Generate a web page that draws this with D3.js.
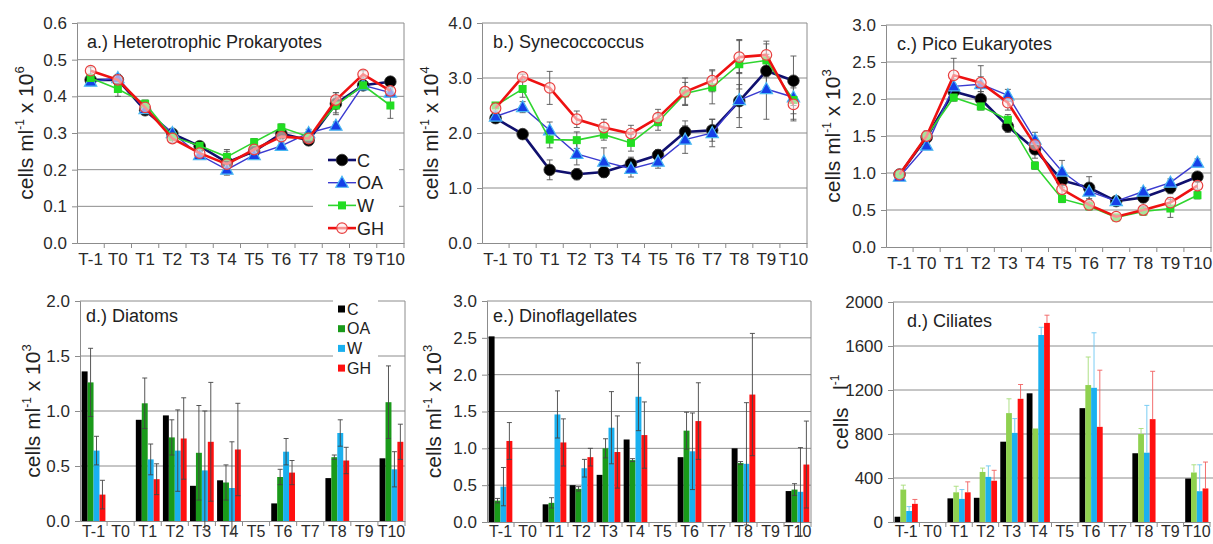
<!DOCTYPE html>
<html>
<head>
<meta charset="utf-8">
<script src="https://cdn.jsdelivr.net/npm/d3@7.9.0/dist/d3.min.js"></script>
<style>
  body { margin: 0; background: #fff; }
  svg { display: block; font-family: "Liberation Sans", Arial, sans-serif; }
</style>
</head>
<body>
<svg id="chart" width="1213" height="544"></svg>
<script>
// x categories (sampling days) and treatments
const timepoints = ["T-1", "T0", "T1", "T2", "T3", "T4", "T5", "T6", "T7", "T8", "T9", "T10"];
const treatments = ["C", "OA", "W", "GH"];

// a.) Heterotrophic prokaryotes, cells ml-1 x 10^6
const hetC  = [0.445, 0.445, 0.362, 0.298, 0.264, 0.220, 0.250, 0.298, 0.280, 0.380, 0.430, 0.440];
const hetOA = [0.440, 0.450, 0.365, 0.300, 0.240, 0.200, 0.240, 0.265, 0.300, 0.320, 0.430, 0.410];
const hetW  = [0.450, 0.420, 0.380, 0.290, 0.265, 0.235, 0.275, 0.315, 0.290, 0.375, 0.430, 0.375];
const hetGH = [0.470, 0.445, 0.370, 0.285, 0.245, 0.215, 0.255, 0.290, 0.285, 0.390, 0.460, 0.415];
const hetCErr  = [0.010, 0.010, 0.010, 0.010, 0.012, 0.035, 0.010, 0.010, 0.010, 0.030, 0.010, 0.010];
const hetOAErr = [0.010, 0.010, 0.010, 0.010, 0.010, 0.010, 0.010, 0.010, 0.010, 0.010, 0.010, 0.010];
const hetWErr  = [0.010, 0.020, 0.010, 0.010, 0.010, 0.015, 0.010, 0.010, 0.010, 0.020, 0.010, 0.035];
const hetGHErr = [0.010, 0.010, 0.010, 0.010, 0.010, 0.010, 0.010, 0.010, 0.010, 0.020, 0.010, 0.010];

// b.) Synechococcus, cells ml-1 x 10^4
const synC  = [2.27, 1.98, 1.33, 1.25, 1.29, 1.44, 1.60, 2.02, 2.05, 2.58, 3.13, 2.95];
const synOA = [2.30, 2.47, 2.05, 1.62, 1.48, 1.35, 1.48, 1.88, 2.00, 2.60, 2.80, 2.65];
const synW  = [2.50, 2.80, 1.88, 1.87, 1.97, 1.82, 2.20, 2.72, 2.83, 3.25, 3.32, 2.60];
const synGH = [2.45, 3.02, 2.82, 2.25, 2.10, 1.99, 2.28, 2.75, 2.95, 3.38, 3.42, 2.52];
const synCErr  = [0.05, 0.05, 0.18, 0.10, 0.10, 0.12, 0.10, 0.20, 0.20, 0.30, 0.30, 0.45];
const synOAErr = [0.05, 0.10, 0.15, 0.20, 0.25, 0.15, 0.12, 0.25, 0.25, 0.50, 0.55, 0.30];
const synWErr  = [0.05, 0.15, 0.15, 0.15, 0.10, 0.15, 0.15, 0.20, 0.30, 0.45, 0.30, 0.35];
const synGHErr = [0.05, 0.05, 0.30, 0.15, 0.15, 0.15, 0.15, 0.25, 0.20, 0.30, 0.25, 0.30];

// c.) Pico eukaryotes, cells ml-1 x 10^3
const picC  = [0.98, 1.48, 2.10, 2.00, 1.63, 1.32, 0.90, 0.80, 0.62, 0.67, 0.80, 0.95];
const picOA = [0.95, 1.37, 2.17, 2.20, 2.05, 1.45, 1.02, 0.75, 0.62, 0.75, 0.87, 1.14];
const picW  = [0.98, 1.50, 2.02, 1.90, 1.72, 1.10, 0.65, 0.55, 0.40, 0.48, 0.52, 0.70];
const picGH = [0.98, 1.50, 2.32, 2.22, 1.95, 1.38, 0.78, 0.57, 0.41, 0.50, 0.60, 0.83];
const picCErr  = [0.05, 0.07, 0.10, 0.10, 0.08, 0.12, 0.10, 0.15, 0.05, 0.07, 0.08, 0.05];
const picOAErr = [0.05, 0.05, 0.10, 0.10, 0.08, 0.10, 0.15, 0.10, 0.05, 0.05, 0.05, 0.05];
const picWErr  = [0.05, 0.05, 0.05, 0.05, 0.07, 0.05, 0.05, 0.05, 0.03, 0.05, 0.12, 0.05];
const picGHErr = [0.05, 0.07, 0.23, 0.23, 0.10, 0.10, 0.10, 0.05, 0.03, 0.05, 0.07, 0.05];

// d.) Diatoms, cells ml-1 x 10^3 (null = not sampled)
const diaC  = [1.36, null, 0.92, 0.96, 0.32, 0.37, null, 0.16, null, 0.39, null, 0.57];
const diaOA = [1.26, null, 1.07, 0.76, 0.62, 0.35, null, 0.40, null, 0.58, null, 1.08];
const diaW  = [0.64, null, 0.56, 0.64, 0.46, 0.30, null, 0.63, null, 0.80, null, 0.47];
const diaGH = [0.24, null, 0.38, 0.75, 0.72, 0.65, null, 0.44, null, 0.55, null, 0.72];
const diaCErr  = [0, null, 0, 0, 0, 0, null, 0, null, 0, null, 0];
const diaOAErr = [0.31, null, 0.23, 0.16, 0.43, 0.16, null, 0.07, null, 0.02, null, 0.33];
const diaWErr  = [0.13, null, 0.14, 0.37, 0.54, 0.42, null, 0.12, null, 0.12, null, 0.16];
const diaGHErr = [0.13, null, 0.14, 0.37, 0.54, 0.42, null, 0.11, null, 0.12, null, 0.16];

// e.) Dinoflagellates, cells ml-1 x 10^3
const dinC  = [2.52, null, 0.24, 0.50, 0.64, 1.12, null, 0.88, null, 1.00, null, 0.42];
const dinOA = [0.29, null, 0.26, 0.45, 1.00, 0.84, null, 1.24, null, 0.80, null, 0.44];
const dinW  = [0.48, null, 1.46, 0.73, 1.28, 1.70, null, 0.96, null, 0.79, null, 0.41];
const dinGH = [1.10, null, 1.08, 0.88, 0.95, 1.18, null, 1.37, null, 1.73, null, 0.78];
const dinCErr  = [0, null, 0, 0, 0, 0, null, 0, null, 0, null, 0];
const dinOAErr = [0.03, null, 0.07, 0.03, 0.13, 0.02, null, 0.25, null, 0.02, null, 0.08];
const dinWErr  = [0.26, null, 0.32, 0.12, 0.49, 0.46, null, 0.52, null, 0.83, null, 0.60];
const dinGHErr = [0.25, null, 0.32, 0.12, 0.49, 0.45, null, 0.52, null, 0.83, null, 0.59];

// f.) Ciliates, cells l-1
const cilC  = [48, null, 215, 220, 730, 1170, null, 1035, null, 625, null, 395];
const cilOA = [295, null, 270, 455, 990, 850, null, 1245, null, 800, null, 450];
const cilW  = [100, null, 210, 410, 810, 1700, null, 1220, null, 630, null, 280];
const cilGH = [165, null, 270, 375, 1120, 1810, null, 865, null, 935, null, 305];
const cilCErr  = [0, null, 0, 0, 0, 0, null, 0, null, 0, null, 0];
const cilOAErr = [40, null, 55, 35, 130, 0, null, 255, null, 50, null, 70];
const cilWErr  = [40, null, 85, 100, 130, 70, null, 500, null, 430, null, 240];
const cilGHErr = [40, null, 95, 95, 130, 70, null, 515, null, 435, null, 240];

const svg = d3.select("#chart");
const FONT = "Liberation Sans, Arial, sans-serif";

const lineStyle = {
  C:  { line: "#10106e", lw: 2.6 },
  OA: { line: "#3a3ad0", lw: 1.4 },
  W:  { line: "#2fd52f", lw: 1.6 },
  GH: { line: "#ee1111", lw: 2.6 }
};

// draws the frame, gridlines, axes and y title of one panel, returns scales
function frame(p) {
  const g = svg.append("g");
  const x = d3.scaleBand().domain(timepoints).range([p.left, p.right]);
  const y = d3.scaleLinear().domain([0, p.yMax]).range([p.bottom, p.top]);

  // gridlines
  g.selectAll("line.grid")
    .data(p.ticks.filter(t => t > 0))
    .join("line")
    .attr("x1", p.left).attr("x2", p.gridRight || p.right)
    .attr("y1", d => y(d)).attr("y2", d => y(d))
    .attr("stroke", "#8c8c8c").attr("stroke-width", 1);

  if (p.box) {
    g.append("line").attr("x1", p.right).attr("x2", p.right)
      .attr("y1", p.top).attr("y2", p.bottom)
      .attr("stroke", "#8c8c8c");
  }

  // y axis
  const ya = g.append("g")
    .attr("transform", `translate(${p.left},0)`)
    .call(d3.axisLeft(y).tickValues(p.ticks).tickFormat(p.fmt).tickSize(5).tickPadding(5));
  ya.select(".domain").attr("stroke", "#8c8c8c");
  ya.selectAll(".tick line").attr("stroke", "#8c8c8c");
  ya.selectAll("text").attr("font-family", FONT).attr("font-size", 17).attr("fill", "#2a2a2a");

  // x axis with ticks between categories
  const xa = g.append("g")
    .attr("transform", `translate(0,${p.bottom})`)
    .call(d3.axisBottom(x).tickSize(0).tickPadding(p.xPad || 10));
  xa.select(".domain").attr("stroke", "#8c8c8c");
  xa.selectAll("text").attr("font-family", FONT).attr("font-size", p.xFont || 17).attr("fill", "#2a2a2a");
  g.selectAll("line.xtick")
    .data(timepoints)
    .join("line")
    .attr("x1", d => x(d) + x.bandwidth()).attr("x2", d => x(d) + x.bandwidth())
    .attr("y1", p.bottom).attr("y2", p.bottom + 5)
    .attr("stroke", "#8c8c8c");

  // y title
  const t = g.append("text")
    .attr("transform", `translate(${p.titleX},${(p.top + p.bottom) / 2}) rotate(-90)`)
    .attr("text-anchor", "middle")
    .style("white-space", "pre")
    .attr("font-family", FONT).attr("font-size", 21).attr("fill", "#222");
  t.append("tspan").text(p.unit[0]);
  t.append("tspan").attr("font-size", 12).attr("dy", -9).text(p.unit[1]);
  t.append("tspan").attr("dy", 9).text(p.unit[2]);
  if (p.unit[3]) t.append("tspan").attr("font-size", 13).attr("dy", -9).text(p.unit[3]);

  // panel title
  g.append("text")
    .attr("x", p.labelX).attr("y", p.labelY)
    .attr("font-family", FONT).attr("font-size", 18).attr("fill", "#222")
    .text(p.label);

  return { g, x, y };
}

function marker(sel, key, cx, cy) {
  if (key === "C") {
    sel.append("circle").attr("cx", cx).attr("cy", cy).attr("r", 5.8)
      .attr("fill", "#000").attr("stroke", "#333").attr("stroke-width", 0.8);
  } else if (key === "OA") {
    const s = 6.5;
    sel.append("path")
      .attr("d", `M${cx},${cy - s}L${cx + s * 0.95},${cy + s * 0.7}L${cx - s * 0.95},${cy + s * 0.7}Z`)
      .attr("fill", "#1540e8").attr("stroke", "#49b8f2").attr("stroke-width", 1.2);
  } else if (key === "W") {
    sel.append("rect").attr("x", cx - 4).attr("y", cy - 4).attr("width", 8).attr("height", 8)
      .attr("fill", "#22dd22");
  } else {
    sel.append("circle").attr("cx", cx).attr("cy", cy).attr("r", 5.3)
      .attr("fill", "rgba(255,235,235,0.6)").attr("stroke", "#e84040").attr("stroke-width", 1.2);
  }
}

function linePanel(p, series, errs) {
  const { g, x, y } = frame(p);
  const cx = d => x(d) + x.bandwidth() / 2;
  // error bars
  treatments.forEach(k => {
    series[k].forEach((v, i) => {
      const e = errs[k][i];
      if (!e) return;
      const xc = cx(timepoints[i]);
      g.append("path")
        .attr("d", `M${xc},${y(v - e)}V${y(v + e)}M${xc - 3},${y(v - e)}H${xc + 3}M${xc - 3},${y(v + e)}H${xc + 3}`)
        .attr("stroke", "#555").attr("stroke-width", 0.9).attr("fill", "none");
    });
  });
  treatments.forEach(k => {
    const line = d3.line().x((d, i) => cx(timepoints[i])).y(d => y(d));
    g.append("path").datum(series[k]).attr("d", line)
      .attr("fill", "none").attr("stroke", lineStyle[k].line).attr("stroke-width", lineStyle[k].lw);
    const mg = g.append("g");
    series[k].forEach((v, i) => marker(mg, k, cx(timepoints[i]), y(v)));
  });
  return g;
}

function barPanel(p, series, errs, colors, errColors, capsBoth) {
  const { g, x, y } = frame(p);
  const inner = d3.scaleBand().domain(treatments).range([0, x.bandwidth()]).paddingOuter(0.28);
  treatments.forEach(k => {
    series[k].forEach((v, i) => {
      if (v === null) return;
      const bx = x(timepoints[i]) + inner(k);
      g.append("rect")
        .attr("x", bx).attr("y", y(v))
        .attr("width", inner.bandwidth()).attr("height", y(0) - y(v))
        .attr("fill", colors[k]);
    });
  });
  treatments.forEach(k => {
    series[k].forEach((v, i) => {
      const e = errs[k][i];
      if (v === null || !e) return;
      const xc = x(timepoints[i]) + inner(k) + inner.bandwidth() / 2;
      const lo = capsBoth ? v - e : v;
      let d = `M${xc},${y(lo)}V${y(v + e)}M${xc - 2.5},${y(v + e)}H${xc + 2.5}`;
      if (capsBoth) d += `M${xc - 2.5},${y(lo)}H${xc + 2.5}`;
      g.append("path").attr("d", d)
        .attr("stroke", errColors[k]).attr("stroke-width", 0.9).attr("fill", "none");
    });
  });
  return g;
}

// ---- top row: line charts ----
const gA = linePanel(
  { left: 77, right: 404, top: 23, bottom: 243, yMax: 0.6, ticks: d3.range(0, 0.61, 0.1), fmt: d3.format(".1f"),
    box: true, titleX: 33, unit: ["cells ml", "-1", " x 10", "6"], label: "a.) Heterotrophic Prokaryotes", labelX: 87, labelY: 48 },
  { C: hetC, OA: hetOA, W: hetW, GH: hetGH },
  { C: hetCErr, OA: hetOAErr, W: hetWErr, GH: hetGHErr });

linePanel(
  { left: 482, right: 807, top: 23, bottom: 243, yMax: 4, ticks: d3.range(0, 4.01, 1), fmt: d3.format(".1f"),
    box: true, titleX: 438, unit: ["cells ml", "-1", " x 10", "4"], label: "b.) Synecoccoccus", labelX: 493, labelY: 48 },
  { C: synC, OA: synOA, W: synW, GH: synGH },
  { C: synCErr, OA: synOAErr, W: synWErr, GH: synGHErr });

linePanel(
  { left: 886, right: 1211, top: 25, bottom: 247, yMax: 3, ticks: d3.range(0, 3.01, 0.5), fmt: d3.format(".1f"),
    box: true, titleX: 840, unit: ["cells ml", "-1", " x 10", "3"], label: "c.) Pico Eukaryotes", labelX: 897, labelY: 50 },
  { C: picC, OA: picOA, W: picW, GH: picGH },
  { C: picCErr, OA: picOAErr, W: picWErr, GH: picGHErr });

// legend for panel a
const legA = gA.append("g");
legA.append("rect").attr("x", 313).attr("y", 150).attr("width", 86).attr("height", 88).attr("fill", "#fff");
treatments.forEach((k, i) => {
  const ly = 160 + i * 22.7;
  legA.append("line").attr("x1", 328).attr("x2", 356).attr("y1", ly).attr("y2", ly)
    .attr("stroke", lineStyle[k].line).attr("stroke-width", lineStyle[k].lw);
  marker(legA, k, 342, ly);
  legA.append("text").attr("x", 357).attr("y", ly + 6.5)
    .attr("font-family", FONT).attr("font-size", 18).attr("fill", "#222").text(k);
});

// ---- bottom row: bar charts ----
const barColors = { C: "#000000", OA: "#1a9a1a", W: "#1ab0ef", GH: "#ff1010" };
const barErr = { C: "#444", OA: "#444", W: "#444", GH: "#444" };
const cilColors = { C: "#000000", OA: "#8fd14f", W: "#1ab0ef", GH: "#ff1010" };
const cilErr = { C: "#000", OA: "#a6dc78", W: "#6cc7f2", GH: "#f06060" };

const gD = barPanel(
  { left: 80, right: 405, top: 301, bottom: 521, yMax: 2, ticks: d3.range(0, 2.01, 0.5), fmt: d3.format(".1f"),
    box: true, titleX: 40, xPad: 5, xFont: 16, unit: ["cells ml", "-1", " x 10", "3"], label: "d.) Diatoms", labelX: 86, labelY: 322 },
  { C: diaC, OA: diaOA, W: diaW, GH: diaGH },
  { C: diaCErr, OA: diaOAErr, W: diaWErr, GH: diaGHErr }, barColors, barErr, true);

barPanel(
  { left: 487, right: 811, top: 301, bottom: 522, yMax: 3, ticks: d3.range(0, 3.01, 0.5), fmt: d3.format(".1f"),
    box: true, titleX: 441, xPad: 4, xFont: 16, unit: ["cells ml", "-1", " x 10", "3"], label: "e.) Dinoflagellates", labelX: 493, labelY: 322 },
  { C: dinC, OA: dinOA, W: dinW, GH: dinGH },
  { C: dinCErr, OA: dinOAErr, W: dinWErr, GH: dinGHErr }, barColors, barErr, true);

barPanel(
  { left: 893, right: 1210, gridRight: 1213, top: 302, bottom: 522, yMax: 2000, ticks: d3.range(0, 2001, 400), fmt: d3.format("d"),
    box: false, titleX: 848, xPad: 4, xFont: 16, unit: ["cells   l", "-1", ""], label: "d.) Ciliates", labelX: 907, labelY: 327 },
  { C: cilC, OA: cilOA, W: cilW, GH: cilGH },
  { C: cilCErr, OA: cilOAErr, W: cilWErr, GH: cilGHErr }, cilColors, cilErr, false);

// legend for panel d
const legD = gD.append("g");
legD.append("rect").attr("x", 333).attr("y", 296).attr("width", 45).attr("height", 82).attr("fill", "#fff");
treatments.forEach((k, i) => {
  const ly = 309 + i * 19.7;
  legD.append("rect").attr("x", 338).attr("y", ly - 3.5).attr("width", 7).attr("height", 7).attr("fill", barColors[k]);
  legD.append("text").attr("x", 347).attr("y", ly + 5.5)
    .attr("font-family", FONT).attr("font-size", 16).attr("fill", "#222").text(k);
});
</script>
</body>
</html>
